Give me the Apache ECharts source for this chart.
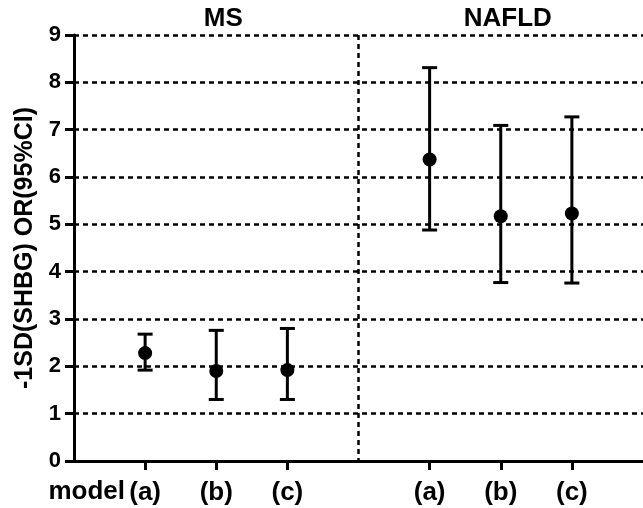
<!DOCTYPE html>
<html>
<head>
<meta charset="utf-8">
<script src="https://cdn.jsdelivr.net/npm/echarts@6/dist/echarts.min.js"></script>
<style>html,body{margin:0;padding:0;background:#fff}#c{width:643px;height:508px}</style>
</head>
<body>
<div id="c"></div>
<script>
// ---- data ----
const groups = ['MS', 'NAFLD'];
const models = ['(a)', '(b)', '(c)'];
const msOR = [2.28, 1.90, 1.92];
const msLower = [1.92, 1.30, 1.30];
const msUpper = [2.68, 2.76, 2.80];
const nafldOR = [6.37, 5.17, 5.23];
const nafldLower = [4.88, 3.77, 3.76];
const nafldUpper = [8.31, 7.09, 7.27];
const yTicks = [0, 1, 2, 3, 4, 5, 6, 7, 8, 9];
const yTitle = '-1SD(SHBG) OR(95%CI)';
const xTitle = 'model';

// ---- build category slots: gap, models..., gap, models..., gap ----
const cats = [];
const topCats = [];
const groupData = [
  {est: msOR, lo: msLower, hi: msUpper},
  {est: nafldOR, lo: nafldLower, hi: nafldUpper}
];
const points = [];
const bars = [];
const dividerIdx = [];
groups.forEach((g, gi) => {
  if (gi > 0) dividerIdx.push(cats.length);
  cats.push(''); topCats.push('');
  models.forEach((m, mi) => {
    const idx = cats.length;
    cats.push(m);
    topCats.push(mi === Math.floor(models.length / 2) ? g : '');
    points.push([idx, groupData[gi].est[mi]]);
    bars.push([idx, groupData[gi].lo[mi], groupData[gi].hi[mi]]);
  });
});
cats.push(''); topCats.push('');

const FONT = '"Liberation Sans", Arial, sans-serif';
const chart = echarts.init(document.getElementById('c'), null, {renderer: 'canvas'});
chart.setOption({
  animation: false,
  backgroundColor: '#fff',
  grid: {left: 74, top: 35, width: 574, height: 426, containLabel: false},
  xAxis: [{
    type: 'category',
    data: cats,
    boundaryGap: false,
    axisLine: {lineStyle: {color: '#000', width: 3}},
    axisTick: {
      length: 9, lineStyle: {color: '#000', width: 3},
      interval: (i, v) => v !== ''
    },
    axisLabel: {
      interval: (i, v) => v !== '',
      color: '#000', fontFamily: FONT, fontWeight: 'bold', fontSize: 26, margin: 19
    },
    splitLine: {
      show: true,
      interval: (i) => dividerIdx.indexOf(i) >= 0,
      lineStyle: {color: '#000', type: [5, 4], width: 2.5}
    }
  }, {
    type: 'category',
    data: topCats,
    boundaryGap: false,
    position: 'top',
    axisLine: {show: false},
    axisTick: {show: false},
    splitLine: {show: false},
    axisLabel: {
      interval: (i, v) => v !== '',
      color: '#000', fontFamily: FONT, fontWeight: 'bold', fontSize: 26, margin: 3,
      padding: [0, 0, 0, 14]
    }
  }],
  yAxis: {
    type: 'value',
    min: yTicks[0], max: yTicks[yTicks.length - 1], interval: 1,
    name: yTitle,
    nameLocation: 'middle',
    nameRotate: 90,
    nameGap: 36,
    nameTextStyle: {color: '#000', fontFamily: FONT, fontWeight: 'bold', fontSize: 25},
    axisLine: {show: true, lineStyle: {color: '#000', width: 3}},
    axisTick: {show: true, length: 9, lineStyle: {color: '#000', width: 3}},
    axisLabel: {color: '#000', fontFamily: FONT, fontWeight: 'bold', fontSize: 22, margin: 13},
    splitLine: {show: true, lineStyle: {color: '#000', type: [5, 4], width: 2.5}}
  },
  graphic: [{
    type: 'text',
    right: 643 - 125,
    top: 479,
    style: {text: xTitle, fill: '#000', font: 'bold 26px ' + FONT}
  }],
  series: [{
    type: 'custom',
    data: bars,
    encode: {x: 0, y: [1, 2]},
    renderItem: function (params, api) {
      const x = api.value(0);
      const pLo = api.coord([x, api.value(1)]);
      const pHi = api.coord([x, api.value(2)]);
      const hw = 7.5;
      const st = {stroke: '#000', lineWidth: 3};
      return {type: 'group', children: [
        {type: 'line', shape: {x1: pLo[0], y1: pLo[1], x2: pHi[0], y2: pHi[1]}, style: st},
        {type: 'line', shape: {x1: pLo[0] - hw, y1: pLo[1], x2: pLo[0] + hw, y2: pLo[1]}, style: st},
        {type: 'line', shape: {x1: pHi[0] - hw, y1: pHi[1], x2: pHi[0] + hw, y2: pHi[1]}, style: st}
      ]};
    },
    z: 3
  }, {
    type: 'scatter',
    data: points,
    symbol: 'circle',
    symbolSize: 14,
    itemStyle: {color: '#000', opacity: 1},
    z: 4
  }]
});
</script>
</body>
</html>
